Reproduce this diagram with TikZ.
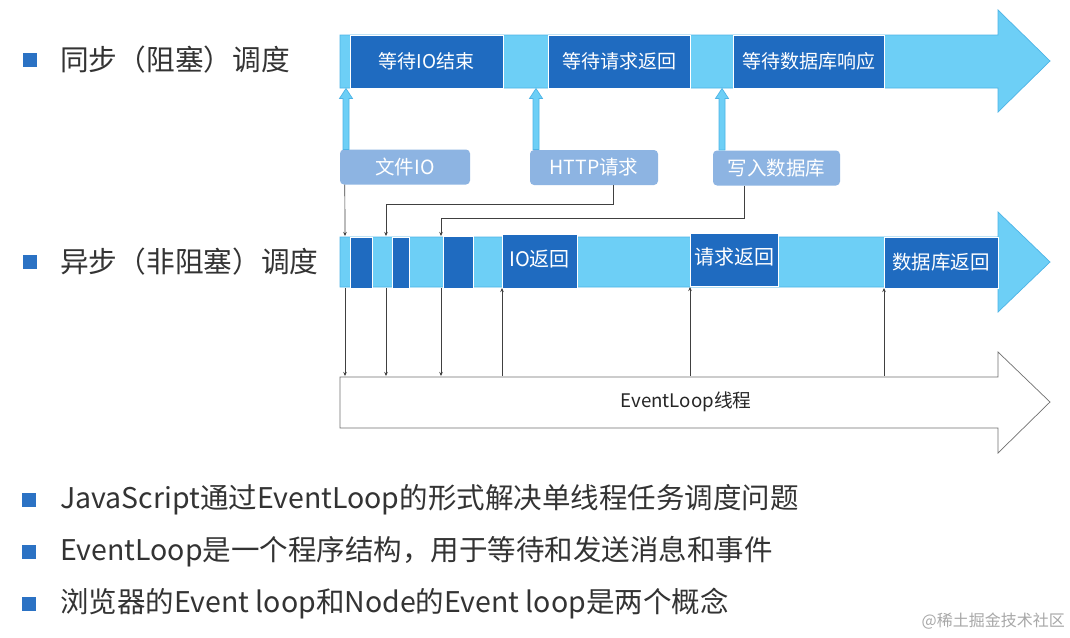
\documentclass[tikz,border=0pt]{standalone}
\usepackage{fontspec}
\setmainfont{Noto Sans CJK SC}
\usetikzlibrary{arrows.meta}
\definecolor{barblue}{HTML}{6DCFF6}
\definecolor{baredge}{HTML}{4DB4E6}
\definecolor{darkblue}{HTML}{1F6BC0}
\definecolor{lblbox}{HTML}{8DB4E2}
\definecolor{txtgray}{HTML}{333333}
\definecolor{bulletblue}{HTML}{2B72C4}
\definecolor{loopedge}{HTML}{707070}
\definecolor{wmgray}{HTML}{A8A8A8}
\newcommand\myupar[3]{%
  \filldraw[fill=barblue, draw=baredge, line width=0.7pt]
    (#1-3,#3) -- (#1-3,#2+10) -- (#1-6.5,#2+10) -- (#1,#2) -- (#1+6.5,#2+10) -- (#1+3,#2+10) -- (#1+3,#3) -- cycle;}
\begin{document}
\begin{tikzpicture}[x=1pt,y=-1pt,
  darkbox/.style={fill=darkblue, draw=white, line width=1pt, text=white,
    font=\fontsize{19}{21}\selectfont, inner sep=0pt, minimum height=53pt},
  lblbox/.style={fill=lblbox, rounded corners=4pt, text=white,
    font=\fontsize{19.5}{21}\selectfont, inner sep=0pt, minimum height=35pt},
  conn/.style={draw=black!75, line width=0.7pt},
  connarr/.style={conn, -{Stealth[length=4pt,width=3.5pt]}},
  bigbar/.style={fill=barblue, draw=baredge, line width=0.7pt},
  bulletsq/.style={fill=bulletblue, draw=none, minimum size=14pt, inner sep=0pt},
  headtext/.style={text=txtgray, font=\fontsize{28.7}{32}\selectfont, anchor=west, inner sep=0pt},
  bodytext/.style={text=txtgray, font=\fontsize{28.5}{32}\selectfont, anchor=west, inner sep=0pt}
]
\useasboundingbox (0,0) rectangle (1070,637);
\fill[white] (0,0) rectangle (1070,637);

% left headings
\node[bulletsq] (q1) at (29.5,60) {};
\node[headtext] (h1) at (60,60) {同步（阻塞）调度};
\node[bulletsq] (q2) at (29.5,262) {};
\node[headtext] (h2) at (60,262) {异步（非阻塞）调度};

% synchronous bar
\filldraw[bigbar] (340,35) -- (998,35) -- (998,10) -- (1050,61) -- (998,112) -- (998,88) -- (340,88) -- cycle;
\node[darkbox, minimum width=153pt] (b1) at (426.5,61.5) {等待IO结束};
\node[darkbox, minimum width=142pt] (b2) at (619,61.5) {等待请求返回};
\node[darkbox, minimum width=151pt] (b3) at (808.5,61.5) {等待数据库响应};

% label boxes
\node[lblbox, minimum width=130pt] (l1) at (405,167) {文件IO};
\node[lblbox, minimum width=128pt] (l2) at (594,167.5) {HTTP请求};
\node[lblbox, minimum width=127pt] (l3) at (776.5,168) {写入数据库};

% thick up arrows
\myupar{346}{88.5}{149.5}
\myupar{536}{88.5}{149.5}
\myupar{722}{88.5}{150}

% asynchronous bar
\filldraw[bigbar] (340,237) -- (998,237) -- (998,212) -- (1050,262) -- (998,312) -- (998,287) -- (340,287) -- cycle;
\node[darkbox, minimum width=22pt, minimum height=51pt] (s1) at (361,262.5) {};
\node[darkbox, minimum width=17pt, minimum height=51pt] (s2) at (400.5,262.5) {};
\node[darkbox, minimum width=30pt, minimum height=52pt] (s3) at (458,262) {};
\node[darkbox, minimum width=75pt, minimum height=54pt, text depth=6pt, font=\fontsize{20}{22}\selectfont] (io) at (539.5,261) {IO返回};
\node[darkbox, minimum width=88pt, minimum height=53pt, text depth=6pt, font=\fontsize{20}{22}\selectfont] (rq) at (734,259.5) {请求返回};
\node[darkbox, minimum width=114pt, minimum height=51pt, font=\fontsize{19.5}{22}\selectfont] (db) at (941,262.5) {数据库返回};

% coordinates on the async bar
\coordinate (a1) at (345,236);
\coordinate (a2) at (386,236);
\coordinate (a3) at (441,236);
\coordinate (k2) at (386,204);
\coordinate (k3) at (441,218);
\coordinate (d1) at (345,288);
\coordinate (d2) at (386,288);
\coordinate (d3) at (441,288);
\coordinate (u4) at (502,288);
\coordinate (u5) at (690,287);
\coordinate (u6) at (884,288);

% connectors from label boxes
\draw[connarr] ([xshift=5pt]l1.south west) -- (a1);
\draw[connarr] ([xshift=19pt]l2.south) |- (k2) -- (a2);
\draw[connarr] ([xshift=-32.5pt]l3.south) |- (k3) -- (a3);

% EventLoop arrow
\filldraw[fill=white, draw=loopedge, line width=0.7pt] (340,377) -- (998,377) -- (998,352) -- (1050,402) -- (998,453) -- (998,428) -- (340,428) -- cycle;
\node[text=black!85, font=\fontsize{18.7}{21}\selectfont] (el) at (686,402) {EventLoop线程};
\coordinate (e1) at (345,376);
\coordinate (e2) at (386,376);
\coordinate (e3) at (441,376);
\coordinate (e4) at (502,376);
\coordinate (e5) at (690,376);
\coordinate (e6) at (884,376);

\draw[connarr] (d1) -- (e1);
\draw[connarr] (d2) -- (e2);
\draw[connarr] (d3) -- (e3);
\draw[connarr] (e4) -- (u4);
\draw[connarr] (e5) -- (u5);
\draw[connarr] (e6) -- (u6);

% bottom bullets
\node[bulletsq] (q3) at (29,500) {};
\node[bodytext] (t3) at (60,500) {JavaScript通过EventLoop的形式解决单线程任务调度问题};
\node[bulletsq] (q4) at (29,552) {};
\node[bodytext] (t4) at (60,552) {EventLoop是一个程序结构，用于等待和发送消息和事件};
\node[bulletsq] (q5) at (29,604) {};
\node[bodytext] (t5) at (60,604) {浏览器的Event loop和Node的Event loop是两个概念};

% watermark
\node[text=wmgray, font=\fontsize{16}{18}\selectfont, anchor=east, inner sep=0pt] (wm) at (1065,621) {@稀土掘金技术社区};
\end{tikzpicture}
\end{document}
